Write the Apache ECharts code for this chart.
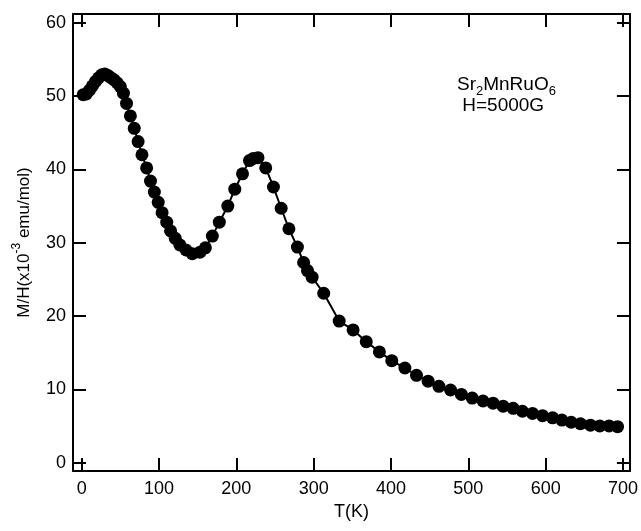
<!DOCTYPE html>
<html>
<head>
<meta charset="utf-8">
<script src="https://cdn.jsdelivr.net/npm/echarts@6/dist/echarts.min.js"></script>
<style>
html,body{margin:0;padding:0;background:#fff;}
#chart{width:641px;height:531px;}
</style>
</head>
<body>
<div id="chart"></div>
<script>
// Temperature (K)
const temperature = [2, 6, 10, 14, 18, 22, 26, 30, 34, 38, 42, 46, 50, 54, 58, 63, 68, 73, 78, 84, 89, 94, 99, 104, 110, 115, 121, 127, 135, 143, 153, 160, 169, 178, 189, 198, 208, 217, 222, 228, 238, 248, 258, 268, 279, 287, 292, 298, 313, 333, 351, 368, 385, 401, 418, 433, 448, 462, 477, 491, 505, 519, 532, 545, 558, 570, 583, 596, 609, 621, 633, 645, 658, 670, 682, 693];
// M/H (x10^-3 emu/mol)
const susceptibility = [50.2, 50.3, 50.8, 51.4, 52.0, 52.5, 52.9, 53.0, 52.8, 52.5, 52.2, 51.8, 51.3, 50.4, 49.0, 47.3, 45.6, 43.8, 42.0, 40.2, 38.4, 36.9, 35.5, 34.1, 32.8, 31.6, 30.6, 29.7, 29.0, 28.5, 28.7, 29.3, 30.9, 32.8, 35.0, 37.3, 39.4, 41.2, 41.5, 41.6, 40.2, 37.6, 34.7, 31.9, 29.4, 27.3, 26.2, 25.3, 23.1, 19.3, 18.1, 16.5, 15.1, 13.9, 12.9, 11.9, 11.1, 10.4, 9.9, 9.3, 8.8, 8.4, 8.1, 7.7, 7.4, 7.0, 6.7, 6.4, 6.1, 5.8, 5.5, 5.3, 5.1, 5.0, 5.0, 4.9];
const xTicks = [0, 100, 200, 300, 400, 500, 600, 700];
const yTicks = [0, 10, 20, 30, 40, 50, 60];
const xTitle = 'T(K)';
const sampleLines = ['{n|Sr}{s|2}{n|MnRuO}{s|6}', '{n| H=5000G}'];

const chart = echarts.init(document.getElementById('chart'), null, {renderer: 'canvas'});
const FONT = 'Liberation Sans, Arial, sans-serif';
const lineSty = {color: '#000', width: 2};
const xMin = -11.2, xMax = 709, yMin = -1.15, yMax = 61.2;

function xAx(pos, showLabels) {
  return {
    type: 'value', position: pos, min: xMin, max: xMax,
    axisLine: {show: true, onZero: false, lineStyle: lineSty},
    axisTick: {show: true, inside: true, length: 13, lineStyle: lineSty, customValues: xTicks},
    axisLabel: {show: showLabels, customValues: xTicks, color: '#000', fontSize: 18, fontFamily: FONT, margin: 9},
    splitLine: {show: false}
  };
}
function yAx(pos, showLabels) {
  return {
    type: 'value', position: pos, min: yMin, max: yMax,
    axisLine: {show: true, onZero: false, lineStyle: lineSty},
    axisTick: {show: true, inside: true, length: 13, lineStyle: lineSty, customValues: yTicks},
    axisLabel: {show: showLabels, customValues: yTicks, color: '#000', fontSize: 18, fontFamily: FONT, margin: 7},
    splitLine: {show: false}
  };
}

const xBottom = xAx('bottom', true);
xBottom.name = xTitle;
xBottom.nameLocation = 'middle';
xBottom.nameGap = 31;
xBottom.nameTextStyle = {color: '#000', fontSize: 18, fontFamily: FONT};

const yLeft = yAx('left', true);
yLeft.name = '{n|M/H(x10}{sup|-3}{n| emu/mol)}';
yLeft.nameLocation = 'middle';
yLeft.nameGap = 40;
yLeft.nameRotate = 90;
yLeft.nameTextStyle = {
  color: '#000', fontSize: 17, fontFamily: FONT,
  rich: {
    n: {fontSize: 17, fontFamily: FONT, color: '#000', verticalAlign: 'bottom', lineHeight: 22},
    sup: {fontSize: 12, fontFamily: FONT, color: '#000', verticalAlign: 'top', lineHeight: 22, padding: [0, 0, 10, 0]}
  }
};

const option = {
  backgroundColor: '#fff',
  animation: false,
  grid: {left: 73, right: 10, top: 14, bottom: 60, containLabel: false},
  xAxis: [xBottom, xAx('top', false)],
  yAxis: [yLeft, yAx('right', false)],
  series: [{
    type: 'line',
    xAxisIndex: 0, yAxisIndex: 0,
    data: temperature.map((t, i) => [t, susceptibility[i]]),
    symbol: 'circle', symbolSize: 13,
    itemStyle: {color: '#000'},
    lineStyle: {color: '#000', width: 2},
    z: 3
  }],
  graphic: [{
    type: 'text', left: 457, top: 75,
    style: {
      text: sampleLines.join('\n'),
      fill: '#000',
      rich: {
        n: {fontSize: 19, fontFamily: FONT, fill: '#000', lineHeight: 21, verticalAlign: 'bottom'},
        s: {fontSize: 13, fontFamily: FONT, fill: '#000', lineHeight: 21, verticalAlign: 'bottom', padding: [0, 0, -4, 0]}
      }
    }
  }]
};
chart.setOption(option);
</script>
</body>
</html>
